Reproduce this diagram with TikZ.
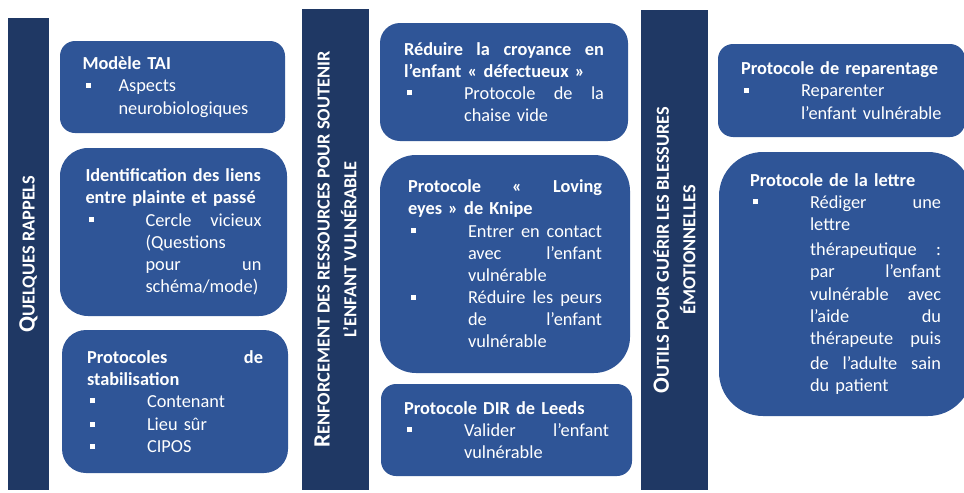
\documentclass[tikz,border=0pt]{standalone}
\usepackage{fontspec}
\setmainfont{Carlito}
\usetikzlibrary{calc}

\definecolor{bleufonce}{HTML}{1F3864}
\definecolor{bleuboite}{HTML}{2F5597}

\newlength{\unite}
\setlength{\unite}{0.6pt}
\newcommand{\puce}[1][60]{\makebox[#1\unite][l]{\hspace{3\unite}\rule[2.4pt]{3pt}{3pt}}}
\newcommand{\retrait}[1][60]{\hspace*{#1\unite}}
\newcommand{\grande}[1]{{\fontsize{14}{16}\selectfont #1}}

\tikzset{
  barre/.style={fill=bleufonce, text=white, rotate=90, inner sep=0pt,
    align=center, font=\bfseries\fontsize{11}{16}\selectfont},
  boite/.style={fill=bleuboite, text=white, inner sep=0pt,
    align=left, font=\fontsize{11}{13.3}\selectfont},
}

\begin{document}
\begin{tikzpicture}[x=\unite, y=-\unite]
\useasboundingbox (0,0) rectangle (964,492);
\clip (0,0) rectangle (964,492);
% les trois bandeaux
\node[barre, minimum width=472\unite, minimum height=41\unite] (rappels) at (28.5,254)
  {\grande{Q}UELQUES RAPPELS};
\node[barre, minimum width=481\unite, minimum height=67\unite] (ressources) at (335.5,249.5)
  {\grande{R}ENFORCEMENT DES RESSOURCES POUR SOUTENIR\\L’ENFANT VULNÉRABLE};
\node[barre, minimum width=480\unite, minimum height=67\unite] (outils) at (674.5,250)
  {\grande{O}UTILS POUR GUÉRIR LES BLESSURES\\ÉMOTIONNELLES};
% colonne 1
\node[boite, minimum width=225\unite, minimum height=92\unite, rounded corners=15\unite,
  text width=180\unite] (tai) at (172.5,87)
  {\textbf{Modèle TAI}\\\puce[36]Aspects\\\retrait[36]neurobiologiques};
\node[boite, minimum width=227\unite, minimum height=168\unite, rounded corners=28\unite,
  text width=176\unite] (liens) at (173.5,232)
  {\textbf{Identification des liens}\\\textbf{entre plainte et passé}\\
   \puce Cercle\hfill vicieux\\\retrait(Questions\\\retrait pour\hfill un\\\retrait schéma/mode)};
\node[boite, minimum width=226\unite, minimum height=143\unite, rounded corners=24\unite,
  text width=176\unite] (stabilisation) at (175,401.5)
  {\textbf{Protocoles\hfill de}\\\textbf{stabilisation}\\
   \puce Contenant\\[1\unite]\puce Lieu sûr\\\puce CIPOS};
% colonne 2
\node[boite, minimum width=248\unite, minimum height=118\unite, rounded corners=20\unite,
  text width=200\unite] (croyance) at (504,82)
  {\textbf{Réduire\hfill la\hfill croyance\hfill en}\\\textbf{l’enfant «~défectueux~»}\\
   \puce Protocole\hfill de\hfill la\\\retrait chaise vide};
\node[boite, minimum width=250\unite, minimum height=218\unite, rounded corners=36\unite,
  text width=194\unite] (knipe) at (505,264)
  {\textbf{Protocole\hfill «\hfill Loving}\\\textbf{eyes~» de Knipe}\\
   \puce Entrer\hfill en\hfill contact\\\retrait avec\hfill l’enfant\\\retrait vulnérable\\
   \puce Réduire\hfill les\hfill peurs\\\retrait de\hfill l’enfant\\\retrait vulnérable};
\node[boite, minimum width=251\unite, minimum height=92\unite, rounded corners=15\unite,
  text width=205\unite] (leeds) at (506.5,430)
  {\textbf{Protocole DIR de Leeds}\\\puce Valider\hfill l’enfant\\\retrait vulnérable};
% colonne 3
\node[boite, minimum width=247\unite, minimum height=93\unite, rounded corners=15\unite,
  text width=201\unite] (reparentage) at (841.5,90.5)
  {\textbf{Protocole de reparentage}\\\puce Reparenter\\\retrait l’enfant vulnérable};
\node[boite, minimum width=253\unite, minimum height=264\unite, rounded corners=44\unite,
  text width=191\unite] (lettre) at (845.5,284)
  {\textbf{Protocole de la lettre}\\\puce Rédiger\hfill une\\\retrait lettre\\[3\unite]
   \retrait thérapeutique\hfill :\\\retrait par\hfill l’enfant\\\retrait vulnérable\hfill avec\\
   \retrait l’aide\hfill du\\\retrait thérapeute\hfill puis\\[3\unite]\retrait de\hfill l’adulte\hfill sain\\
   \retrait du patient};
\end{tikzpicture}
\end{document}
